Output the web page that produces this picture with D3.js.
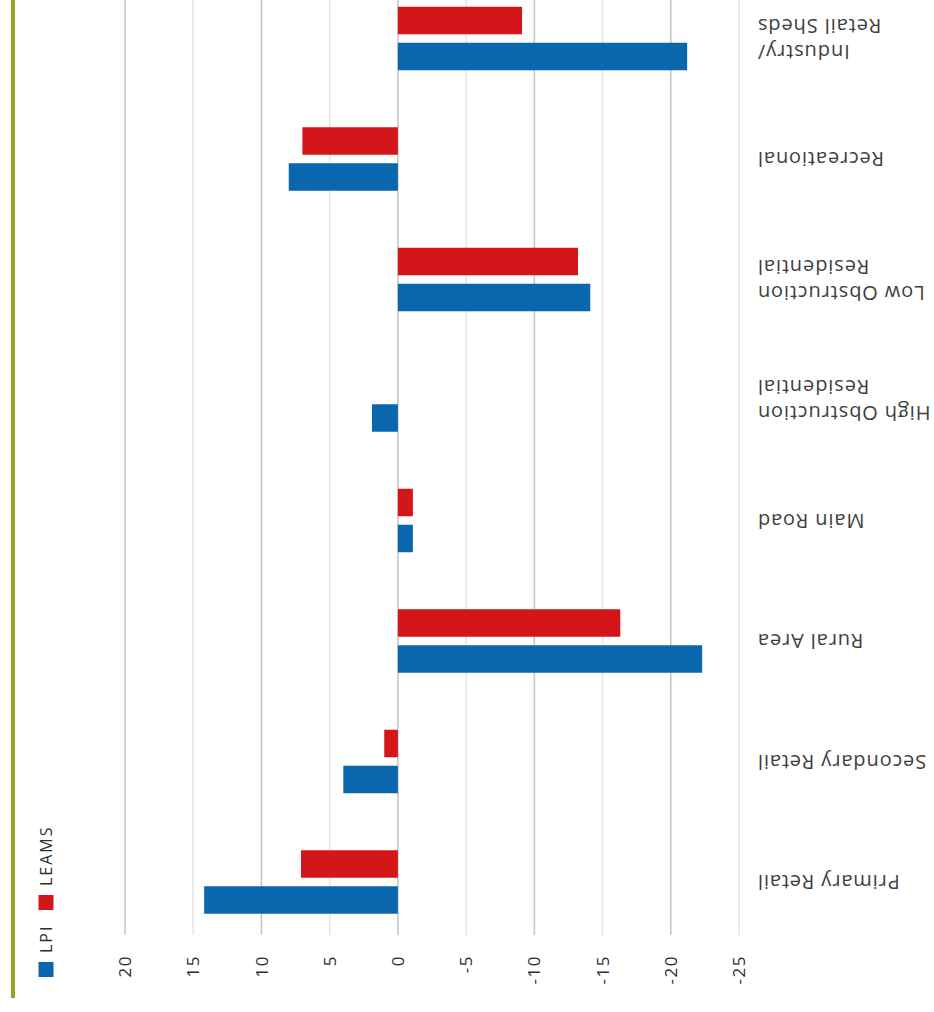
<!DOCTYPE html>
<html>
<head>
<meta charset="utf-8">
<script src="https://cdn.jsdelivr.net/npm/d3@7"></script>
<style>
  html, body { margin: 0; padding: 0; background: #fff; }
  svg { display: block; }
  text { font-family: "Open Sans", "Liberation Sans", sans-serif; }
</style>
</head>
<body>
<svg id="chart" width="934" height="1012"></svg>
<script>
// ---- data ----
const categories = [
  "Industry/\nRetail Sheds",
  "Recreational",
  "Low Obstruction\nResidential",
  "High Obstruction\nResidential",
  "Main Road",
  "Rural Area",
  "Secondary Retail",
  "Primary Retail"
];
const seriesNames = ["LEAMS", "LPI"];
const leamsValues = [-9.1, 7.0, -13.2, 0, -1.1, -16.3, 1.0, 7.1];
const lpiValues   = [-21.2, 8.0, -14.1, 1.9, -1.1, -22.3, 4.0, 14.2];
const seriesColors = ["#d4161b", "#0a66ad"];
const tickValues = [20, 15, 10, 5, 0, -5, -10, -15, -20, -25];
const legendItems = ["LPI", "LEAMS"];
const legendColors = ["#0a66ad", "#d4161b"];

const rows = categories.map((c, i) => ({
  cat: c,
  vals: [
    { s: "LEAMS", v: leamsValues[i] },
    { s: "LPI", v: lpiValues[i] }
  ]
}));

const svg = d3.select("#chart");
svg.append("rect").attr("width", 934).attr("height", 1012).attr("fill", "#fff");

// scales
const x = d3.scaleLinear().domain([20, -25]).range([125, 739]);
const y = d3.scaleBand().domain(categories).range([-21.75, 942.25])
  .paddingInner(0.473).paddingOuter(0.2365);
const ys = d3.scaleBand().domain(seriesNames).range([0, y.bandwidth()])
  .paddingInner(0.236).paddingOuter(0);
const color = d3.scaleOrdinal().domain(seriesNames).range(seriesColors);

// gridlines
svg.append("g").selectAll("line").data(tickValues).join("line")
  .attr("x1", d => x(d)).attr("x2", d => x(d))
  .attr("y1", 0).attr("y2", 935)
  .attr("stroke", d => (d % 10 === 0 ? "#c8c8c8" : "#e6e6e6"))
  .attr("stroke-width", 1.6);

// tick labels (rotated)
svg.append("g").selectAll("text").data(tickValues).join("text")
  .attr("transform", d => `translate(${x(d)},955) rotate(-90)`)
  .attr("text-anchor", "end")
  .attr("dy", "0.36em")
  .attr("font-size", 17)
  .attr("letter-spacing", 1.5)
  .attr("fill", "#2e2e2e")
  .text(d => String(d));

// bars
const groups = svg.append("g").selectAll("g").data(rows).join("g")
  .attr("transform", d => `translate(0,${y(d.cat)})`);
groups.selectAll("rect").data(d => d.vals).join("rect")
  .attr("x", d => Math.min(x(0), x(d.v)))
  .attr("width", d => Math.abs(x(d.v) - x(0)))
  .attr("y", d => ys(d.s))
  .attr("height", ys.bandwidth())
  .attr("fill", d => color(d.s));

// category labels (upside down)
const labelG = svg.append("g").selectAll("g").data(categories).join("g")
  .attr("transform", d => `translate(757,${y(d) + y.bandwidth() / 2}) rotate(180)`);
labelG.each(function(d) {
  const lines = d.split("\n");
  const n = lines.length;
  const t = d3.select(this).append("text")
    .attr("text-anchor", "end")
    .attr("font-size", 20)
    .attr("letter-spacing", 0.9)
    .attr("fill", "#3e3e3e");
  lines.forEach((ln, i) => {
    t.append("tspan")
      .attr("x", 0)
      .attr("y", (i - (n - 1) / 2) * 26)
      .attr("dy", "0.35em")
      .text(ln);
  });
});

// green vertical rule
svg.append("line")
  .attr("x1", 13).attr("x2", 13).attr("y1", 0).attr("y2", 998)
  .attr("stroke", "#8cab1c").attr("stroke-width", 4);

// legend (rotated)
const legend = svg.append("g").attr("transform", "translate(46,977) rotate(-90)");
const legendOffsets = [0, 67];
const lg = legend.selectAll("g").data(legendItems).join("g")
  .attr("transform", (d, i) => `translate(${legendOffsets[i]},0)`);
lg.append("rect")
  .attr("x", 0).attr("y", -7.5).attr("width", 15).attr("height", 15)
  .attr("fill", (d, i) => legendColors[i]);
lg.append("text")
  .attr("x", 24).attr("dy", "0.36em")
  .attr("font-size", 16)
  .attr("letter-spacing", 2)
  .attr("fill", "#2e2e2e")
  .text(d => d);
</script>
</body>
</html>
